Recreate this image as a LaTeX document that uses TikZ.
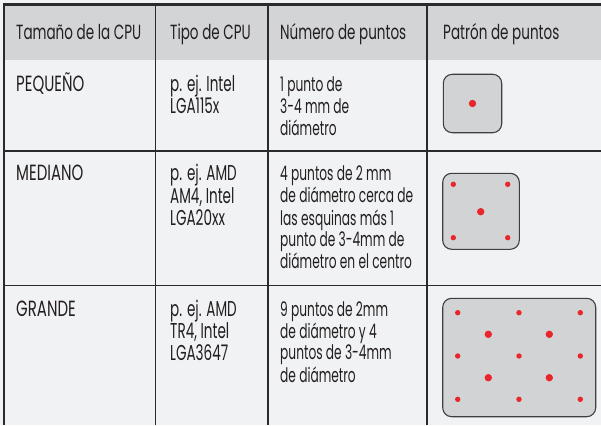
\documentclass[tikz,border=0pt]{standalone}
\usepackage{fontspec}
\setmainfont[FakeStretch=0.66]{Poppins}
\newfontfamily\titulofont[FakeStretch=0.68]{Poppins}
\newfontfamily\cuerpofont[FakeStretch=0.61]{Poppins}
\newfontfamily\tipofont[FakeStretch=0.63]{Poppins}
\definecolor{fondo}{HTML}{F1F2F4}
\definecolor{cabecera}{HTML}{D3D4D6}
\definecolor{linea}{HTML}{2A2A2A}
\definecolor{letra}{HTML}{231F20}
\definecolor{gris}{HTML}{D2D3D5}
\definecolor{rojo}{HTML}{E8262B}
% celda de varias lineas, alineada por la primera linea
\newcommand{\celda}[1]{\begin{tabular}[t]{@{}l@{}}#1\end{tabular}}
\tikzset{
  texto/.style={anchor=base west, inner sep=0pt, text=letra,
    font=\fontsize{20.5}{21.7}\selectfont},
  titulo/.style={texto, font=\titulofont\fontsize{22}{22}\selectfont},
  cuerpo/.style={texto, font=\cuerpofont\fontsize{20}{21.7}\selectfont},
  tipo/.style={texto, font=\tipofont\fontsize{21.5}{21.7}\selectfont},
  cpu/.style={draw=linea!90, fill=gris, line width=1.1pt, rounded corners=9pt},
  punto/.style={fill=rojo},
}

\begin{document}
\begin{tikzpicture}[x=1pt, y=-1pt]
  \useasboundingbox (0,0) rectangle (601,425);
  \def\rp{2.7pt} % radio del punto de 2 mm
  \def\rg{3.7pt} % radio del punto de 3-4 mm
  % fondo y cabecera
  \fill[fondo] (0,0) rectangle (601,425);
  \fill[cabecera] (4,4.5) rectangle (601,60);
  % rejilla de la tabla
  \foreach \x in {155.5,268,427} {
    \draw[linea, line width=1.3pt] (\x,4.5) -- (\x,425);
  }
  \foreach \y in {151,285.5} {
    \draw[linea, line width=1.3pt] (4,\y) -- (601,\y);
  }
  \draw[linea, line width=2.6pt] (4,425) -- (4,4.5) -- (601,4.5);
  % cabecera
  \node[texto] (hTam) at (16,40) {Tamaño de la CPU};
  \node[texto] (hTipo) at (170,40) {Tipo de CPU};
  \node[texto] (hNum) at (280,40) {Número de puntos};
  \node[texto] (hPat) at (443,40) {Patrón de puntos};
  % fila pequeño
  \node[titulo] (tamP) at (16,91.7) {PEQUEÑO};
  \node[tipo] (tipoP) at (170,91.7) {\celda{p. ej. Intel\\LGA115x}};
  \node[cuerpo] (numP) at (280,91.7) {\celda{1 punto de\\3-4 mm de\\diámetro}};
  % fila mediano
  \node[titulo] (tamM) at (16,180.7) {MEDIANO};
  \node[tipo] (tipoM) at (170,180.7) {\celda{p. ej. AMD\\AM4, Intel\\LGA20xx}};
  \node[cuerpo] (numM) at (280,180.7) {\celda{4 puntos de 2 mm\\de diámetro cerca de\\las esquinas más 1\\punto de 3-4mm de\\diámetro en el centro}};
  % fila grande
  \node[titulo] (tamG) at (16,316) {GRANDE};
  \node[tipo] (tipoG) at (170,316) {\celda{p. ej. AMD\\TR4, Intel\\LGA3647}};
  \node[cuerpo] (numG) at (280,316) {\celda{9 puntos de 2mm\\de diámetro y 4\\puntos de 3-4mm\\de diámetro}};
  % patrones de puntos
  \draw[cpu] (443.3,74.3) rectangle (501.7,132.7);
  \fill[punto] (472.5,103.5) circle (\rg);
  \draw[cpu] (442.7,173.3) rectangle (519.3,249.3);
  \foreach \x in {453.3,507.7} {
    \foreach \y in {184.3,237.7} {
      \fill[punto] (\x,\y) circle (\rp);
    }
  }
  \fill[punto] (480.7,211.7) circle (\rg);
  \draw[cpu] (442.7,298.3) rectangle (595.7,416.7);
  \foreach \x in {457.7,519,580.3} {
    \foreach \y in {312.7,356,399.3} {
      \fill[punto] (\x,\y) circle (\rp);
    }
  }
  \foreach \x in {488.3,549.3} {
    \foreach \y in {334.3,377.7} {
      \fill[punto] (\x,\y) circle (\rg);
    }
  }
\end{tikzpicture}
\end{document}
